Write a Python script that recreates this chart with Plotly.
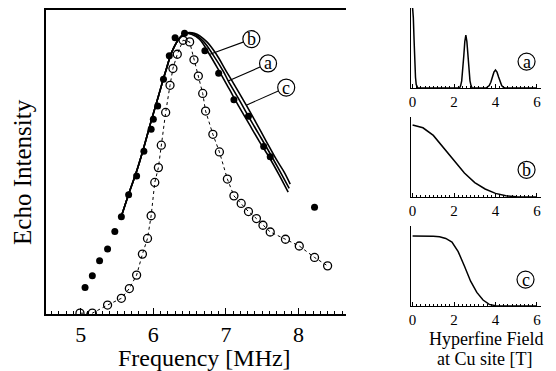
import plotly.graph_objects as go

W, H = 556, 371
def px(x): return x / W
def py(y): return 1 - y / H

# ---------------- main panel data ----------------
freq_filled = [5.06, 5.16, 5.26, 5.37, 5.47, 5.56, 5.66, 5.77, 5.87, 5.97, 6.00, 6.06,
               6.14, 6.22, 6.30, 6.43, 6.71, 6.90, 7.11, 7.31, 7.52, 7.61, 8.22]
int_filled = [0.092, 0.134, 0.187, 0.229, 0.292, 0.344, 0.423, 0.49, 0.578, 0.657, 0.693, 0.74,
              0.836, 0.92, 0.984, 1.0, 0.937, 0.857, 0.762, 0.703, 0.595, 0.559, 0.378]

freq_open = [4.99, 5.16, 5.37, 5.56, 5.67, 5.77, 5.85, 5.92, 5.97, 6.02, 6.07, 6.11, 6.17, 6.23,
             6.27, 6.33, 6.41, 6.50, 6.56, 6.62, 6.68, 6.72, 6.82, 6.91, 7.02, 7.11, 7.21, 7.31,
             7.42, 7.51, 7.61, 7.82, 8.01, 8.22, 8.40]
int_open = [0.0, 0.0, 0.029, 0.053, 0.088, 0.136, 0.211, 0.267, 0.348, 0.467, 0.52, 0.6, 0.717, 0.814,
            0.874, 0.925, 0.975, 0.969, 0.905, 0.847, 0.785, 0.722, 0.639, 0.576, 0.479, 0.419, 0.392,
            0.363, 0.338, 0.314, 0.290, 0.264, 0.240, 0.199, 0.169]

curve_a_f = [5.56, 5.66, 5.77, 5.87, 5.97, 6.07, 6.17, 6.26, 6.36, 6.44,
             6.552, 6.690, 6.827, 6.964, 7.033, 7.170, 7.308, 7.445, 7.582, 7.720, 7.871]
curve_a_i = [0.346, 0.425, 0.507, 0.593, 0.686, 0.775, 0.864, 0.936, 0.982, 1.0,
             0.998, 0.971, 0.921, 0.864, 0.829, 0.768, 0.704, 0.643, 0.582, 0.518, 0.446]
curve_b_f = [5.56, 5.66, 5.77, 5.87, 5.97, 6.07, 6.17, 6.26, 6.36, 6.44,
             6.525, 6.635, 6.772, 6.909, 7.047, 7.184, 7.321, 7.459, 7.596, 7.734, 7.857]
curve_b_i = [0.346, 0.425, 0.507, 0.593, 0.686, 0.775, 0.864, 0.936, 0.982, 1.0,
             0.996, 0.979, 0.925, 0.864, 0.8, 0.736, 0.675, 0.614, 0.557, 0.493, 0.432]
curve_c_f = [5.56, 5.66, 5.77, 5.87, 5.97, 6.07, 6.17, 6.26, 6.36, 6.44,
             6.566, 6.731, 6.868, 7.005, 7.143, 7.280, 7.418, 7.555, 7.692, 7.802, 7.885]
curve_c_i = [0.346, 0.425, 0.507, 0.593, 0.686, 0.775, 0.864, 0.936, 0.982, 1.0,
             1.0, 0.971, 0.925, 0.864, 0.804, 0.743, 0.679, 0.614, 0.55, 0.504, 0.461]

main_labels = ["b", "a", "c"]
label_x = [7.35, 7.58, 7.83]
label_y = [0.979, 0.892, 0.806]
leader_x0 = [6.78, 7.03, 7.28]
leader_y0 = [0.925, 0.829, 0.743]

# ---------------- side panel data ----------------
field_a = [0, 0.035, 0.07, 0.105, 0.14, 0.175, 0.21, 0.25,
           2.27, 2.32, 2.37, 2.42, 2.47, 2.52, 2.57, 2.62, 2.67, 2.72, 2.77, 2.82, 2.87,
           3.55, 3.625, 3.70, 3.775, 3.85, 3.925, 4.0, 4.075, 4.15, 4.225, 4.30, 4.375, 4.45, 6.0]
dist_a = [1.0, 0.88, 0.61, 0.32, 0.135, 0.044, 0.011, 0.0,
          0.0, 0.03, 0.09, 0.21, 0.40, 0.58, 0.66, 0.58, 0.40, 0.21, 0.09, 0.03, 0.0,
          0.0, 0.01, 0.03, 0.072, 0.137, 0.198, 0.225, 0.198, 0.137, 0.072, 0.03, 0.01, 0.0, 0.0]
field_b = [0, 0.5, 1.0, 1.5, 2.0, 2.5, 3.0, 3.5, 4.0, 4.5, 5.0, 5.5, 6.0]
dist_b = [0.9, 0.865, 0.77, 0.617, 0.455, 0.3, 0.18, 0.1, 0.045, 0.015, 0.003, 0.0, 0.0]
field_c = [0, 0.5, 1.0, 1.3, 1.6, 1.9, 2.2, 2.5, 2.8, 3.1, 3.4, 3.7, 4.0, 4.3, 6.0]
dist_c = [0.875, 0.875, 0.872, 0.865, 0.845, 0.8, 0.68, 0.5, 0.31, 0.17, 0.075, 0.02, 0.003, 0.0, 0.0]
side_labels = ["a", "b", "c"]
side_label_x = [5.5, 5.5, 5.45]
side_label_y = [0.33, 0.34, 0.33]
side_ticks = [0, 2, 4, 6]

SERIF = "Liberation Serif, Times New Roman, serif"
fig = go.Figure()

fig.add_trace(go.Scatter(x=freq_open, y=int_open, mode="lines+markers",
                         line=dict(color="black", width=1, dash="dot"),
                         marker=dict(symbol="circle-open", size=8, color="black", line=dict(width=1.3)),
                         xaxis="x", yaxis="y"))
for f, i in [(curve_a_f, curve_a_i), (curve_b_f, curve_b_i), (curve_c_f, curve_c_i)]:
    fig.add_trace(go.Scatter(x=f, y=i, mode="lines", line=dict(color="black", width=1.6, shape="spline"),
                             xaxis="x", yaxis="y"))
fig.add_trace(go.Scatter(x=freq_filled, y=int_filled, mode="markers",
                         marker=dict(symbol="circle", size=7, color="black"), xaxis="x", yaxis="y"))

shapes = []
annotations = []
for lab, lx, ly, x0, y0 in zip(main_labels, label_x, label_y, leader_x0, leader_y0):
    shapes.append(dict(type="line", xref="x", yref="y", x0=x0, y0=y0, x1=lx, y1=ly,
                       line=dict(color="black", width=1.1)))
for lab, lx, ly in zip(main_labels, label_x, label_y):
    shapes.append(dict(type="circle", xref="x", yref="y", xsizemode="pixel", ysizemode="pixel",
                       xanchor=lx, yanchor=ly, x0=-8.5, x1=8.5, y0=-8.5, y1=8.5,
                       line=dict(color="black", width=1.2), fillcolor="white", layer="above"))
    annotations.append(dict(x=lx, y=ly, xref="x", yref="y", text=lab, showarrow=False,
                            xanchor="center", yanchor="middle",
                            font=dict(family=SERIF, size=18, color="black")))

# side panels
side_data = [(field_a, dist_a), (field_b, dist_b), (field_c, dist_c)]
side_axis_y = [88, 197, 306]
for k, (fx, dy) in enumerate(side_data):
    n = k + 2
    fig.add_trace(go.Scatter(x=fx, y=dy, mode="lines", line=dict(color="black", width=1.5),
                             xaxis=f"x{n}", yaxis=f"y{n}"))
    shapes.append(dict(type="circle", xref=f"x{n}", yref=f"y{n}", xsizemode="pixel", ysizemode="pixel",
                       xanchor=side_label_x[k], yanchor=side_label_y[k], x0=-8.5, x1=8.5, y0=-8.5, y1=8.5,
                       line=dict(color="black", width=1.2)))
    annotations.append(dict(x=side_label_x[k], y=side_label_y[k], xref=f"x{n}", yref=f"y{n}",
                            text=side_labels[k], showarrow=False, xanchor="center", yanchor="middle",
                            font=dict(family=SERIF, size=18, color="black")))

annotations.append(dict(x=px(20), y=py(172), xref="paper", yref="paper", text="Echo Intensity",
                        textangle=-90, showarrow=False, xanchor="center", yanchor="middle",
                        font=dict(family=SERIF, size=25, color="black")))
annotations.append(dict(x=px(203), y=py(357.5), xref="paper", yref="paper",
                        text="Frequency [MHz]", showarrow=False, xanchor="center", yanchor="middle",
                        font=dict(family=SERIF, size=24, color="black")))
annotations.append(dict(x=px(486), y=py(338.5), xref="paper", yref="paper",
                        text="Hyperfine Field", showarrow=False, xanchor="center", yanchor="middle",
                        font=dict(family=SERIF, size=18, color="black")))
annotations.append(dict(x=px(484), y=py(359), xref="paper", yref="paper",
                        text="at Cu site [T]", showarrow=False, xanchor="center", yanchor="middle",
                        font=dict(family=SERIF, size=18, color="black")))

layout = dict(
    width=W, height=H, margin=dict(l=0, r=0, t=0, b=0),
    paper_bgcolor="white", plot_bgcolor="white", showlegend=False,
    shapes=shapes, annotations=annotations,
    xaxis=dict(domain=[px(44), px(345)], range=[4.52, 8.65], anchor="y",
               showline=True, linecolor="black", linewidth=1.5, mirror=True,
               ticks="inside", ticklen=6, tickwidth=1, tickcolor="black", dtick=1, tick0=5,
               minor=dict(dtick=0.1, ticks="inside", ticklen=3, tickcolor="black"),
               showgrid=False, zeroline=False,
               tickfont=dict(family=SERIF, size=22, color="black")),
    yaxis=dict(domain=[py(314), py(10)], range=[-0.003, 1.083], anchor="x",
               showline=True, linecolor="black", linewidth=1.5, showticklabels=False, ticks="",
               showgrid=False, zeroline=False),
)
for k in range(3):
    n = k + 2
    ya = side_axis_y[k]
    layout[f"xaxis{n}"] = dict(domain=[px(410), px(541)], range=[-0.1, 6.2], anchor=f"y{n}",
                               showline=True, linecolor="black", linewidth=1.3,
                               ticks="inside", ticklen=4, tickcolor="black", tickvals=side_ticks,
                               minor=dict(dtick=0.2, tick0=0, ticks="inside", ticklen=2, tickcolor="black"),
                               showgrid=False, zeroline=False,
                               tickfont=dict(family=SERIF, size=15, color="black"))
    layout[f"yaxis{n}"] = dict(domain=[py(ya), py(ya - 80)], range=[0, 1.0], anchor=f"x{n}",
                               showline=True, linecolor="black", linewidth=1.3, showticklabels=False,
                               ticks="", showgrid=False, zeroline=False)

fig.update_layout(**layout)
fig.write_html("out.html")
